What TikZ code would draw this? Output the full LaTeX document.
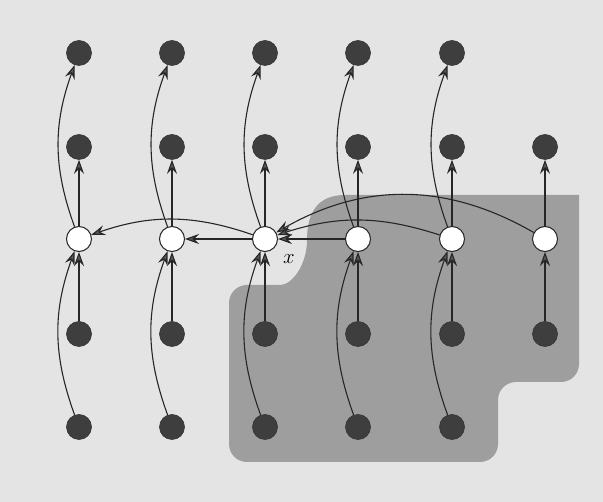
\documentclass[tikz,border=0pt]{standalone}
\usetikzlibrary{arrows.meta}
\definecolor{bgc}{RGB}{228,228,228}
\definecolor{shadec}{RGB}{158,158,158}
\definecolor{darkc}{RGB}{62,62,62}
\begin{document}
\begin{tikzpicture}[x=1pt,y=-1pt,
  dnode/.style={circle,fill=darkc,draw=black!80,line width=0.6pt,minimum size=25pt,inner sep=0pt},
  wnode/.style={circle,fill=white,draw=black!85,line width=1pt,minimum size=25pt,inner sep=0pt},
  arr/.style={draw=black!85,line width=1.1pt,-{Stealth[length=14pt,width=10pt,inset=5pt,fill=black!65]}},
  lbl/.style={font=\fontsize{20}{24}\selectfont,inner sep=0pt}]
\useasboundingbox (0,0) rectangle (603,502);
\fill[bgc] (0,0) rectangle (603,502);
% shaded region
\fill[shadec, rounded corners=18pt] (579,195) -- (579,382) -- (498,382) -- (498,462) -- (229,462) -- (229,285) -- (262,285)
  [sharp corners] .. controls (292,285) and (307,265) .. (307,240)
  .. controls (307,212) and (318,195) .. (345,195) -- cycle;
% nodes
\foreach \i/\x in {1/79,2/172,3/265,4/358,5/452}{
  \node[dnode] (t\i) at (\x,53) {};
  \node[dnode] (b\i) at (\x,427) {};
}
\foreach \i/\x in {1/79,2/172,3/265,4/358,5/452,6/545}{
  \node[dnode] (u\i) at (\x,147) {};
  \node[wnode] (w\i) at (\x,239) {};
  \node[dnode] (d\i) at (\x,334) {};
}
% edges
\foreach \i in {1,...,5}{
  \draw[arr] (w\i) to[bend left=20] (t\i);
  \draw[arr] (b\i) to[bend left=20] (w\i);
}
\foreach \i in {1,...,6}{
  \draw[arr] (w\i) -- (u\i);
  \draw[arr] (d\i) -- (w\i);
}
\draw[arr] (w3) -- (w2);
\draw[arr] (w3) to[bend right=19] (w1);
\draw[arr] (w4) -- (w3);
\draw[arr] (w5) to[bend right=18] (w3);
\draw[arr] (w6) to[bend right=30] (w3);
\node[lbl] (xl) at (289,259) {$x$};
\end{tikzpicture}
\end{document}
